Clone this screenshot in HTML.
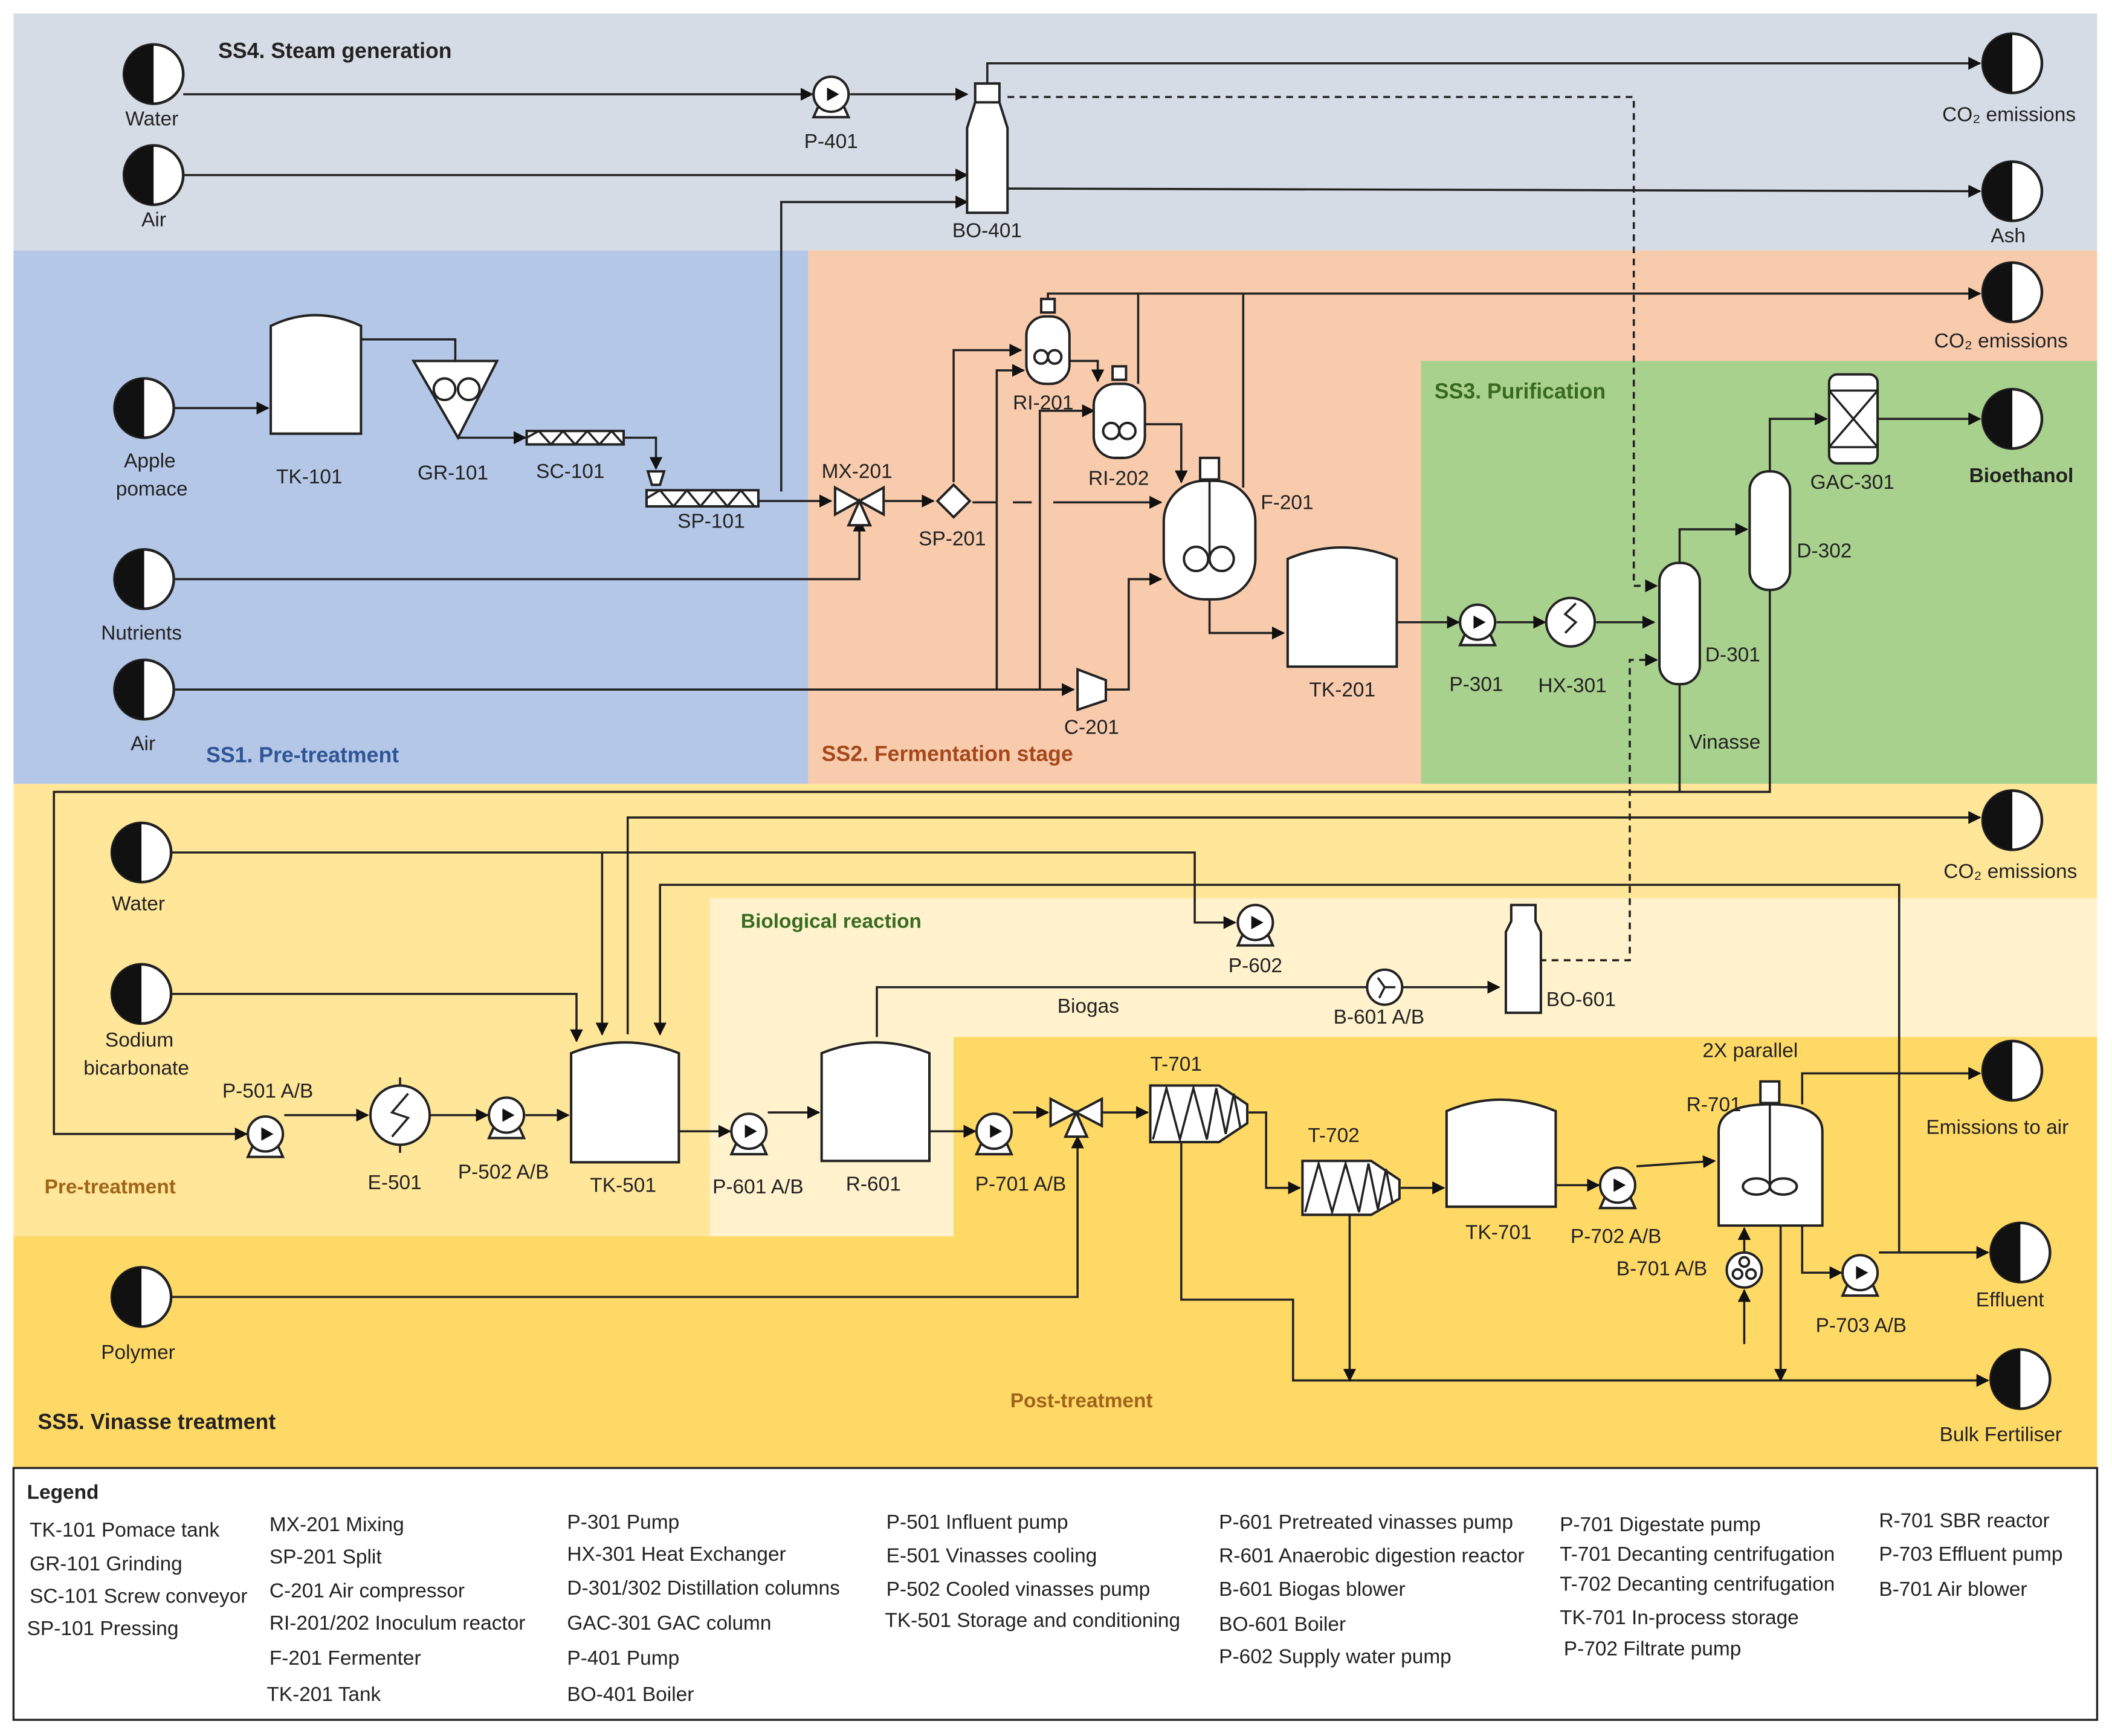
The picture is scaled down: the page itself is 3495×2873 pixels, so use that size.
<!DOCTYPE html>
<html><head><meta charset="utf-8"><style>
html,body{margin:0;padding:0;background:#fff}
svg{display:block}
text{font-family:"Liberation Sans",sans-serif;font-size:15px;fill:#222}
.b{font-weight:bold;font-size:16px}
.l{stroke:#222;stroke-width:1.6;fill:none}
.e{fill:#fff;stroke:#222;stroke-width:1.8}
</style></head><body>
<svg width="3495" height="2873" viewBox="0 0 1568 1289" xmlns="http://www.w3.org/2000/svg">
<defs>
<marker id="a" viewBox="0 0 10 10" refX="9" refY="5" markerWidth="6" markerHeight="6" orient="auto"><path d="M0,0L10,5L0,10z" fill="#111"/></marker>
<g id="t"><circle r="22" fill="#fff" stroke="#222" stroke-width="2"/><path d="M0,-22A22,22 0 0,0 0,22Z" fill="#111"/></g>
<g id="p"><path d="M-9,8L-13,17L13,17L9,8" class="e"/><circle r="13" class="e"/><path d="M-3,-5L6,0L-3,5z" fill="#111"/></g>
</defs>
<rect width="1568" height="1289" fill="#fff"/>
<rect x="10" y="10" width="1547" height="176" fill="#d6dce5"/>
<rect x="10" y="186" width="590" height="396" fill="#b4c7e7"/>
<rect x="600" y="186" width="957" height="396" fill="#f8cbad"/>
<rect x="1055" y="268" width="502" height="314" fill="#a9d18e"/>
<rect x="10" y="582" width="1547" height="508" fill="#ffe699"/>
<rect x="527" y="667" width="1030" height="103" fill="#fff2cc"/>
<rect x="527" y="770" width="181" height="148" fill="#fff2cc"/>
<rect x="708" y="770" width="849" height="320" fill="#ffd966"/>
<rect x="10" y="918" width="698" height="172" fill="#ffd966"/>
<rect x="10" y="1090" width="1547" height="187" fill="#fff" stroke="#222" stroke-width="1.5"/>
<text x="162" y="43" class="b">SS4. Steam generation</text>
<text x="153" y="566" class="b" style="fill:#2f5597">SS1. Pre-treatment</text>
<text x="610" y="565" class="b" style="fill:#a5481b">SS2. Fermentation stage</text>
<text x="1065" y="296" class="b" style="fill:#386b21">SS3. Purification</text>
<text x="28" y="1061" class="b">SS5. Vinasse treatment</text>
<text x="33" y="886" class="b" style="fill:#a0641a;font-size:15px">Pre-treatment</text>
<text x="550" y="689" class="b" style="fill:#386b21;font-size:15px">Biological reaction</text>
<text x="750" y="1045" class="b" style="fill:#a0641a;font-size:15px">Post-treatment</text>
<g class="l" marker-end="url(#a)">
<path d="M136,70H603"/><path d="M631,70H718"/><path d="M136,130H718"/><path d="M580,365V150H718"/>
<path d="M733,62V47H1470"/><path d="M748,140L1470,142"/>
<path d="M130,303H199"/><path d="M268,252H338V280"/><path d="M340,325H390"/><path d="M463,325H487V348"/>
<path d="M563,372H617"/><path d="M130,430H638V386"/><path d="M130,512H797"/>
<path d="M656,372H693"/><path d="M708,358V260H758"/><path d="M740,512V275H760"/><path d="M772,512V305H812"/>
<path d="M821,512H838V430H862"/><path d="M794,268H815V283"/><path d="M850,315H877V358"/>
<path d="M778,222V218H1470"/>
<path d="M898,445V470H953"/><path d="M1037,462H1083"/><path d="M1111,462H1147"/><path d="M1185,462H1228"/>
<path d="M1247,418V393H1297"/><path d="M1314,350V311H1356"/><path d="M1394,311H1470"/>
<path d="M1314,438V588H40V842H183"/>
<path d="M466,768V607H1470"/>
<path d="M127,633H887V685H917"/><path d="M447,633V768"/>
<path d="M1410,930V657H490V768"/>
<path d="M127,738H428V773"/>
<path d="M211,828H273"/><path d="M319,828H362"/><path d="M390,828H422"/>
<path d="M504,840H542"/><path d="M570,826H608"/>
<path d="M651,770V733H1113"/>
<path d="M690,840H724"/><path d="M752,826H778"/><path d="M127,963H800V844"/>
<path d="M818,826H852"/>
<path d="M877,848V965H960V1025H1476"/><path d="M927,826H940V882H965"/><path d="M1002,902V1025"/>
<path d="M1040,882H1072"/><path d="M1155,880H1187"/><path d="M1215,866L1273,862"/>
<path d="M1338,820V797H1470"/><path d="M1322,910V1025"/><path d="M1338,910V945H1367"/><path d="M1395,930H1476"/>
<path d="M1295,998V958"/><path d="M1295,930V912"/>
</g>
<path d="M1247,508V588M845,218V285M923,218V362" class="l"/>
<g class="l" stroke-dasharray="5,4" marker-end="url(#a)">
<path d="M748,72H1213V435H1230"/><path d="M1143,713H1210V490H1230"/>
</g>
<path d="M722,373H740M752,373H766M782,373H862" class="l" marker-end="url(#a)"/>
<use href="#t" x="114" y="55"/><use href="#t" x="114" y="130"/><use href="#t" x="107" y="303"/><use href="#t" x="107" y="430"/><use href="#t" x="107" y="512"/>
<use href="#t" x="1494" y="47"/><use href="#t" x="1494" y="142"/><use href="#t" x="1494" y="217"/><use href="#t" x="1494" y="311"/>
<use href="#t" x="105" y="633"/><use href="#t" x="105" y="738"/><use href="#t" x="105" y="963"/>
<use href="#t" x="1494" y="609"/><use href="#t" x="1494" y="795"/><use href="#t" x="1500" y="930"/><use href="#t" x="1500" y="1024"/>
<use href="#p" x="617" y="70"/><use href="#p" x="1097" y="462"/><use href="#p" x="932" y="685"/><use href="#p" x="197" y="842"/>
<use href="#p" x="376" y="828"/><use href="#p" x="556" y="840"/><use href="#p" x="738" y="840"/><use href="#p" x="1201" y="880"/><use href="#p" x="1381" y="945"/>
<path d="M724,62h18v14h-18z M724,76L718,95V158H748V95L742,76z" class="e"/>
<path d="M201,322V242Q234,226 268,242V322Z" class="e"/>
<path d="M307,268H369L340,325Z" class="e"/><circle cx="330" cy="289" r="8" class="e"/><circle cx="348" cy="289" r="8" class="e"/>
<rect x="391" y="320" width="72" height="10" class="e"/><path d="M391,325l9,-5 9,10 9,-10 9,10 9,-10 9,10 9,-10 9,10" class="l" stroke-width="1"/>
<path d="M481,350H493L490,360H484Z" class="e"/>
<rect x="480" y="364" width="83" height="12" class="e"/><path d="M480,370l10,-6 10,12 10,-12 10,12 10,-12 10,12 10,-12 10,12" class="l" stroke-width="1"/>
<path d="M620,362V382L656,362V382Z" class="e"/><path d="M638,372L630,390H646Z" class="e"/>
<path d="M708,360L720,372L708,384L696,372Z" class="e"/>
<path d="M800,497L821,505V520L800,527Z" class="e"/>
<rect x="762" y="235" width="32" height="50" rx="14" class="e"/><rect x="773" y="222" width="10" height="10" class="e"/><circle cx="773" cy="265" r="5" class="e"/><circle cx="783" cy="265" r="5" class="e"/>
<rect x="812" y="285" width="38" height="55" rx="16" class="e"/><rect x="826" y="272" width="10" height="10" class="e"/><circle cx="825" cy="320" r="6" class="e"/><circle cx="837" cy="320" r="6" class="e"/>
<rect x="864" y="357" width="68" height="88" rx="30" class="e"/><rect x="891" y="340" width="14" height="16" class="e"/><line x1="898" y1="356" x2="898" y2="412" class="l"/><circle cx="888" cy="415" r="9" class="e"/><circle cx="907" cy="415" r="9" class="e"/>
<path d="M956,495V415Q996,398 1037,415V495Z" class="e"/>
<circle cx="1166" cy="462" r="18" class="e"/><path d="M1170,448l-8,8 8,6 -8,8" class="l" stroke-width="1"/>
<rect x="1232" y="418" width="30" height="90" rx="14" class="e"/><rect x="1299" y="350" width="30" height="88" rx="14" class="e"/>
<rect x="1358" y="278" width="36" height="66" rx="6" class="e"/><path d="M1358,290H1394V332H1358ZM1358,290L1394,332M1394,290L1358,332" class="l" stroke-width="1"/>
<circle cx="297" cy="828" r="22" class="e"/><path d="M303,812l-12,14 12,4 -12,14" class="l" stroke-width="1"/><path d="M297,806V800M297,850V856" class="l"/>
<path d="M424,863V782Q464,766 504,782V863Z" class="e"/>
<path d="M610,862V782Q650,766 690,782V862Z" class="e"/>
<circle cx="1028" cy="733" r="13" class="e"/><path d="M1028,733l-5,-7M1028,733l8,0M1028,733l-4,8" class="l"/>
<path d="M1122,672H1140V684L1144,692V752H1118V692L1122,684Z" class="e"/>
<path d="M780,816V836L818,816V836Z" class="e"/><path d="M799,826L791,844H807Z" class="e"/>
<path d="M854,806H905L926,820V834L905,848H854Z" class="e"/><path d="M856,846L866,808 876,846 886,808 896,846 903,808 910,842 916,812 921,838" class="l" stroke-width="1"/>
<path d="M967,862H1018L1039,876V890L1018,902H967Z" class="e"/><path d="M969,900L979,864 989,900 999,864 1009,900 1016,864 1023,898 1029,868 1034,894" class="l" stroke-width="1"/>
<path d="M1074,896V825Q1114,808 1155,825V896Z" class="e"/>
<path d="M1276,910V840Q1276,820 1314,820Q1353,820 1353,840V910Z" class="e"/><rect x="1307" y="803" width="14" height="16" class="e"/><line x1="1314" y1="819" x2="1314" y2="878" class="l"/><ellipse cx="1304" cy="881" rx="10" ry="6" class="e"/><ellipse cx="1324" cy="881" rx="10" ry="6" class="e"/>
<circle cx="1295" cy="943" r="13" class="e"/><circle cx="1295" cy="937" r="3.5" class="e"/><circle cx="1290" cy="946" r="3.5" class="e"/><circle cx="1300" cy="946" r="3.5" class="e"/>
<g>
<text x="93" y="93">Water</text><text x="105" y="168">Air</text>
<text x="92" y="347">Apple</text><text x="86" y="368">pomace</text><text x="75" y="475">Nutrients</text><text x="97" y="557">Air</text>
<text x="597" y="110">P-401</text><text x="707" y="176">BO-401</text>
<text x="1442" y="90">CO₂ emissions</text><text x="1478" y="180">Ash</text><text x="1436" y="258">CO₂ emissions</text>
<text x="1462" y="358" class="b" style="font-size:15px">Bioethanol</text>
<text x="205" y="359">TK-101</text><text x="310" y="356">GR-101</text><text x="398" y="355">SC-101</text><text x="503" y="392">SP-101</text>
<text x="610" y="355">MX-201</text><text x="682" y="405">SP-201</text>
<text x="752" y="304">RI-201</text><text x="808" y="360">RI-202</text><text x="936" y="378">F-201</text>
<text x="790" y="545">C-201</text><text x="972" y="517">TK-201</text>
<text x="1076" y="513">P-301</text><text x="1142" y="514">HX-301</text><text x="1266" y="491">D-301</text><text x="1334" y="414">D-302</text>
<text x="1344" y="363">GAC-301</text><text x="1254" y="556">Vinasse</text>
<text x="83" y="676">Water</text><text x="78" y="777">Sodium</text><text x="62" y="798">bicarbonate</text><text x="75" y="1009">Polymer</text>
<text x="1443" y="652">CO₂ emissions</text><text x="912" y="722">P-602</text><text x="785" y="752">Biogas</text>
<text x="990" y="760">B-601 A/B</text><text x="1148" y="747">BO-601</text>
<text x="165" y="815">P-501 A/B</text><text x="273" y="883">E-501</text><text x="340" y="875">P-502 A/B</text><text x="438" y="885">TK-501</text>
<text x="529" y="886">P-601 A/B</text><text x="628" y="884">R-601</text><text x="724" y="884">P-701 A/B</text>
<text x="854" y="795">T-701</text><text x="971" y="848">T-702</text><text x="1088" y="920">TK-701</text>
<text x="1166" y="923">P-702 A/B</text><text x="1200" y="947">B-701 A/B</text><text x="1264" y="785">2X parallel</text><text x="1252" y="825">R-701</text>
<text x="1348" y="989">P-703 A/B</text><text x="1430" y="842">Emissions to air</text><text x="1467" y="970">Effluent</text><text x="1440" y="1070">Bulk Fertiliser</text>
</g>
<g>
<text x="20" y="1113" class="b" style="font-size:15px">Legend</text>
<text x="22" y="1141">TK-101 Pomace tank</text><text x="22" y="1166">GR-101 Grinding</text><text x="22" y="1190">SC-101 Screw conveyor</text><text x="20" y="1214">SP-101 Pressing</text>
<text x="200" y="1137">MX-201 Mixing</text><text x="200" y="1161">SP-201 Split</text><text x="200" y="1186">C-201 Air compressor</text><text x="200" y="1210">RI-201/202 Inoculum reactor</text><text x="200" y="1236">F-201 Fermenter</text><text x="198" y="1263">TK-201 Tank</text>
<text x="421" y="1135">P-301 Pump</text><text x="421" y="1159">HX-301 Heat Exchanger</text><text x="421" y="1184">D-301/302 Distillation columns</text><text x="421" y="1210">GAC-301 GAC column</text><text x="421" y="1236">P-401 Pump</text><text x="421" y="1263">BO-401 Boiler</text>
<text x="658" y="1135">P-501 Influent pump</text><text x="658" y="1160">E-501 Vinasses cooling</text><text x="658" y="1185">P-502 Cooled vinasses pump</text><text x="657" y="1208">TK-501 Storage and conditioning</text>
<text x="905" y="1135">P-601 Pretreated vinasses pump</text><text x="905" y="1160">R-601 Anaerobic digestion reactor</text><text x="905" y="1185">B-601 Biogas blower</text><text x="905" y="1211">BO-601 Boiler</text><text x="905" y="1235">P-602 Supply water pump</text>
<text x="1158" y="1137">P-701 Digestate pump</text><text x="1158" y="1159">T-701 Decanting centrifugation</text><text x="1158" y="1181">T-702 Decanting centrifugation</text><text x="1158" y="1206">TK-701 In-process storage</text><text x="1161" y="1229">P-702 Filtrate pump</text>
<text x="1395" y="1134">R-701 SBR reactor</text><text x="1395" y="1159">P-703 Effluent pump</text><text x="1395" y="1185">B-701 Air blower</text>
</g>
</svg>
</body></html>
